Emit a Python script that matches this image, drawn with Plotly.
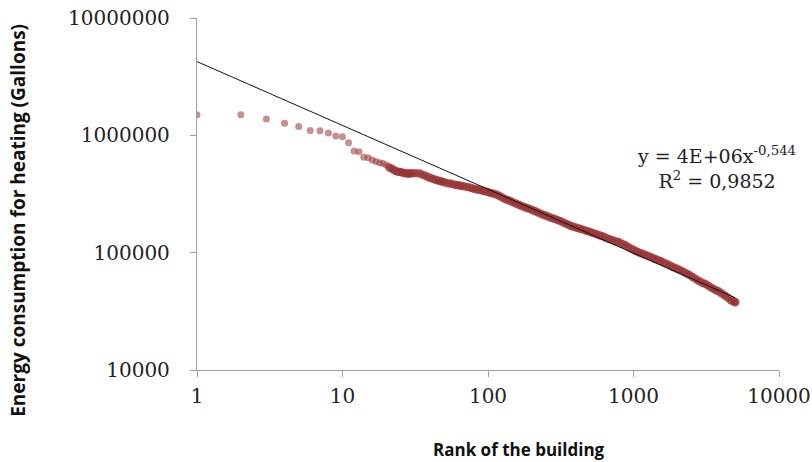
import plotly.graph_objects as go

# Rank of building (x) and heating consumption in gallons (y)
ranks = [1, 2, 3, 4, 5, 6, 7, 8, 9, 10, 11, 12, 13, 14, 15, 16, 17, 18, 19, 20,
         21, 22, 23, 24, 25, 26, 27, 28, 29, 30, 32, 34, 36, 38, 40, 42, 44, 46, 48, 50,
         53, 56, 59, 62, 65, 68, 72, 76, 80, 84, 88, 93, 98, 103, 108, 114, 120, 126, 133, 140,
         147, 155, 163, 172, 181, 190, 200, 210, 221, 233, 245, 258, 271, 285, 300, 316, 332, 350, 368, 387,
         407, 428, 451, 474, 499, 525, 553, 582, 612, 644, 678, 713, 750, 790, 831, 874, 920, 968, 1019, 1072,
         1128, 1187, 1249, 1314, 1383, 1455, 1531, 1611, 1695, 1784, 1877, 1975, 2078, 2187, 2301, 2421, 2548, 2681, 2821, 2968,
         3123, 3286, 3458, 3639, 3829, 4029, 4239, 4461, 4694, 4939, 5000]

consumption = [1500000, 1500000, 1380000, 1265000, 1190000, 1100000, 1095000, 1047000, 987000, 973000,
               865000, 735000, 725000, 650000, 645000, 615000, 597000, 585000, 575000, 558000,
               531000, 517000, 499000, 489000, 486000, 481000, 476000, 473000, 474000, 476000,
               475000, 473000, 459000, 445000, 434000, 425000, 417000, 410000, 405000, 398000,
               391000, 386000, 380000, 375000, 372000, 368000, 362000, 357000, 351000, 345000,
               342000, 336000, 330000, 324000, 319000, 313000, 304000, 294000, 284000, 278000,
               270000, 263000, 256000, 249000, 243000, 238000, 232000, 226000, 220000, 214000,
               208000, 203000, 198000, 195000, 190000, 185000, 180000, 175000, 170000, 166000,
               163000, 160000, 157000, 154000, 151000, 147000, 144000, 141000, 138000, 134000,
               131000, 128000, 125000, 123000, 119000, 116000, 112000, 108000, 104500, 101500,
               99000, 96500, 94000, 91700, 89000, 87200, 85000, 82500, 80000, 77600,
               75200, 73200, 71100, 69000, 66700, 64500, 62000, 59600, 57300, 55500,
               54000, 52000, 50000, 48400, 46800, 45000, 43200, 41200, 39200, 38100, 37800]

# Power-law trend line y = a * x^b (coefficients from the chart's equation)
fit_a = 4.25e6
fit_b = -0.544
fit_x = [1, 10, 100, 1000, 5000]
fit_y = [fit_a * x ** fit_b for x in fit_x]

x_tickvals = [1, 10, 100, 1000, 10000]
x_ticktext = ["1", "10", "100", "1000", "10000"]
y_tickvals = [10000, 100000, 1000000, 10000000]
y_ticktext = ["10000", "100000", "1000000", "10000000"]

eq_text = "y = 4E+06x<sup>-0,544</sup><br>R<sup>2</sup> = 0,9852"
x_title = "Rank of the building"
y_title = "Energy consumption for heating (Gallons)"

# style: isolated top-ranked points look lighter; the crowded tail overlaps into a dense band
marker_opacity = [0.55 if r <= 20 else 0.8 for r in ranks]
marker_size = [7 if r <= 20 else 8.5 for r in ranks]

fig = go.Figure()
fig.add_trace(go.Scatter(
    x=ranks, y=consumption, mode="markers",
    marker=dict(size=marker_size, color="rgb(153,51,51)", opacity=marker_opacity,
                line=dict(width=0)),
    showlegend=False, hoverinfo="x+y"))
fig.add_trace(go.Scatter(
    x=fit_x, y=fit_y, mode="lines",
    line=dict(color="rgb(20,20,20)", width=1),
    showlegend=False))

serif = "DejaVu Serif"
fig.update_layout(
    width=812, height=462,
    margin=dict(l=197, r=33, t=18, b=92, autoexpand=False),
    paper_bgcolor="white", plot_bgcolor="white",
    xaxis=dict(type="log", range=[0, 4], tickvals=x_tickvals, ticktext=x_ticktext,
               showgrid=False, zeroline=False, showline=True, linecolor="#a0a0a0", linewidth=1.3,
               ticks="outside", ticklen=6, tickcolor="#a0a0a0", tickwidth=1.3, automargin=False,
               tickfont=dict(family=serif, size=20, color="#222"), ticklabelstandoff=2),
    yaxis=dict(type="log", range=[4, 7], tickvals=y_tickvals, ticktext=y_ticktext,
               showgrid=False, zeroline=False, showline=True, linecolor="#a0a0a0", linewidth=1.3,
               ticks="outside", ticklen=6, tickcolor="#a0a0a0", tickwidth=1.3, automargin=False,
               tickfont=dict(family=serif, size=20, color="#222"), ticklabelstandoff=16),
    annotations=[
        dict(text=eq_text, xref="paper", yref="paper", x=0.892, y=0.575,
             xanchor="center", yanchor="middle", showarrow=False, align="center",
             font=dict(family=serif, size=19, color="#222")),
        dict(text="<b>" + x_title + "</b>", xref="paper", yref="paper", x=0.553, y=-0.225,
             xanchor="center", yanchor="middle", showarrow=False,
             font=dict(family="Open Sans", size=17, color="#111")),
        dict(text="<b>" + y_title + "</b>", xref="paper", yref="paper", x=-0.308, y=0.426,
             xanchor="center", yanchor="middle", showarrow=False, textangle=-90,
             font=dict(family="Open Sans", size=19, color="#111")),
    ],
)

fig.write_html("out.html", config={"displayModeBar": False})

# remove default page margin so the figure sits at the window's top-left corner
with open("out.html", "r", encoding="utf-8") as f:
    html = f.read()
html = html.replace("<head>", "<head><style>html,body{margin:0;padding:0;overflow:hidden;}</style>", 1)
with open("out.html", "w", encoding="utf-8") as f:
    f.write(html)
